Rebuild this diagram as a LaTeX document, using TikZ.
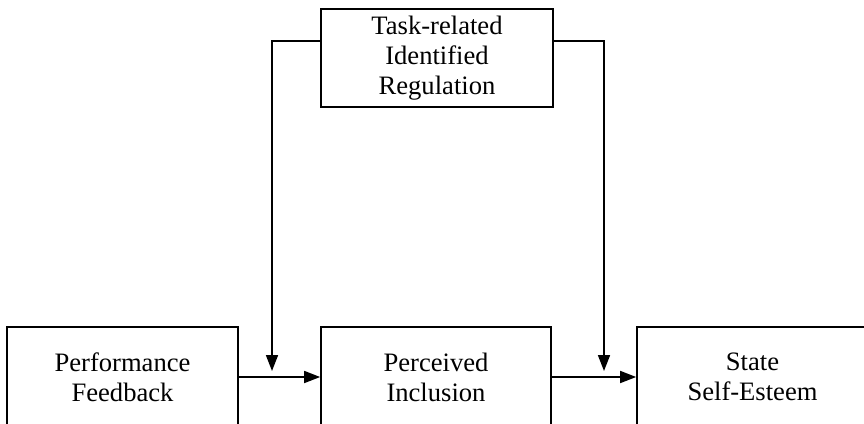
\documentclass[tikz,border=0pt]{standalone}
\usepackage{fontspec}
\setmainfont{Liberation Serif}
\usetikzlibrary{arrows.meta}
\begin{document}
\begin{tikzpicture}[x=1pt,y=-1pt,
  box/.style={draw, line width=1.7pt, align=center, inner sep=0pt,
    font=\fontsize{26.6}{30}\selectfont},
  arr/.style={-{Triangle[length=16pt,width=12pt]}, line width=1.7pt}]
\useasboundingbox (0,0) rectangle (864,423);
\clip (0,0) rectangle (864,423);
\node[box, minimum width=232pt, minimum height=98pt] (top) at (437,58) {Task-related\\Identified\\Regulation};
\node[box, minimum width=231pt, minimum height=100pt] (pf) at (122.5,377) {Performance\\Feedback};
\node[box, minimum width=230pt, minimum height=100pt] (pi) at (436,377) {Perceived\\Inclusion};
\node[box, minimum width=231pt, minimum height=100pt] (se) at (752.5,377) {State\\Self-Esteem};
\coordinate (m1) at (272,371);
\coordinate (m2) at (604,371);
\draw[arr] (pf) -- (pi);
\draw[arr] (pi) -- (se);
\draw[arr] ([yshift=-33pt]top.north west) -| (m1);
\draw[arr] ([yshift=-33pt]top.north east) -| (m2);
\end{tikzpicture}
\end{document}
